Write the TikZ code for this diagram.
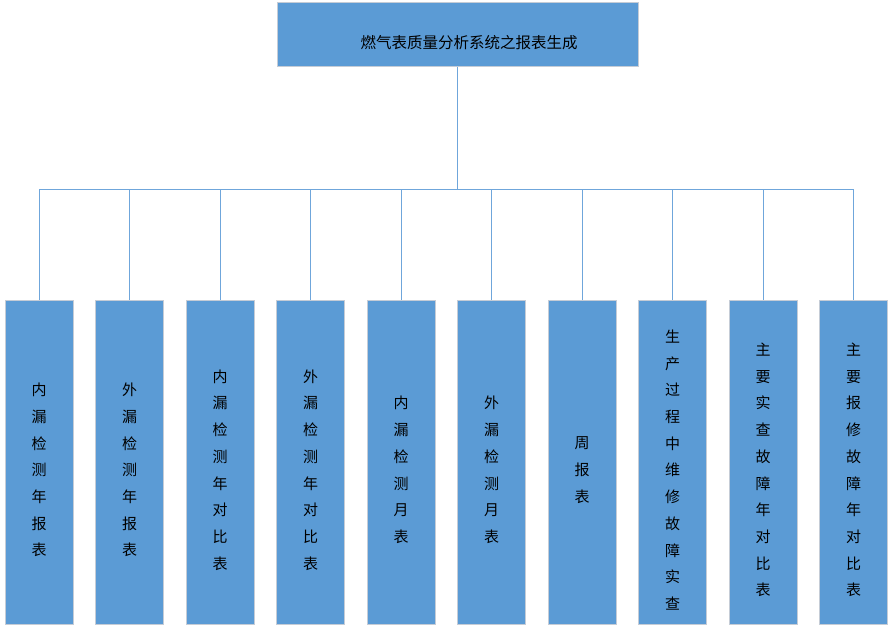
\documentclass[tikz,border=0pt]{standalone}
\usepackage{fontspec}
\newfontfamily\cjk{Noto Sans CJK SC}
\definecolor{boxfill}{HTML}{5B9BD5}
\definecolor{boxline}{HTML}{C5CCD6}
\definecolor{conn}{HTML}{6FA6DB}
\begin{document}
\begin{tikzpicture}[x=1pt,y=1pt,
  topbox/.style={draw=boxline,line width=1pt,fill=boxfill,minimum width=361pt,minimum height=64pt,inner sep=0pt},
  leafbox/.style={draw=boxline,line width=1pt,fill=boxfill,minimum width=68pt,minimum height=324pt,inner sep=0pt},
  vtext/.style={font=\cjk\fontsize{15}{26.7}\selectfont,align=center,inner sep=0pt},
  conline/.style={draw=conn,line width=0.9pt}]
\useasboundingbox (0,0) rectangle (893,633);
\node[topbox] (top) at (457.5,598) {};
\node[font=\cjk\fontsize{15.5}{18}\selectfont,inner sep=0pt] (toplabel) at (469,590) {燃气表质量分析系统之报表生成};
\coordinate (hub) at (457.5,444);
\foreach \i/\x/\t in {
 1/39/{内\\漏\\检\\测\\年\\报\\表},
 2/129.5/{外\\漏\\检\\测\\年\\报\\表},
 3/220/{内\\漏\\检\\测\\年\\对\\比\\表},
 4/310.5/{外\\漏\\检\\测\\年\\对\\比\\表},
 5/401/{内\\漏\\检\\测\\月\\表},
 6/491.5/{外\\漏\\检\\测\\月\\表},
 7/582/{周\\报\\表},
 8/672.5/{生\\产\\过\\程\\中\\维\\修\\故\\障\\实\\查},
 9/763/{主\\要\\实\\查\\故\\障\\年\\对\\比\\表},
 10/853.5/{主\\要\\报\\修\\故\\障\\年\\对\\比\\表}} {
  \node[leafbox] (b\i) at (\x,171) {};
  \node[vtext] (t\i) at (\x,163) {\t};
  \draw[conline] (hub) -| (b\i.north);
}
\draw[conline] (top.south) -- (hub);
\end{tikzpicture}
\end{document}
